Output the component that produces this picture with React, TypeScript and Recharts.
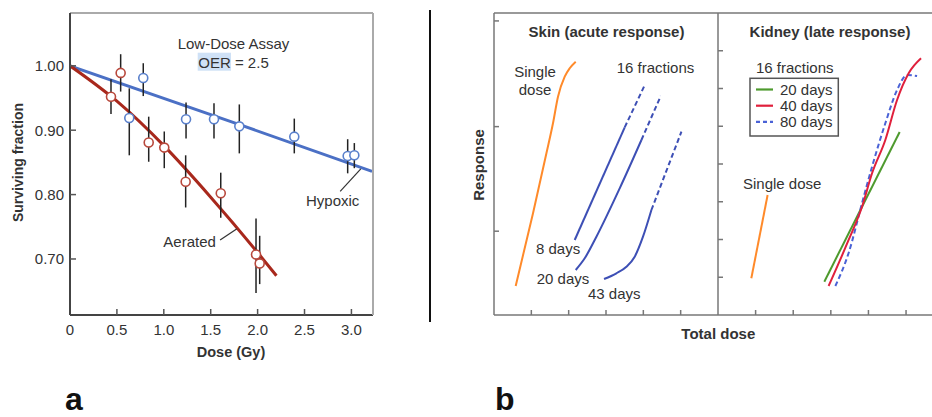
import React from 'react';
import { ComposedChart, LineChart, Line, Scatter, XAxis, YAxis, ErrorBar, ReferenceLine } from 'recharts';

const FONT = "'Liberation Sans', Arial, Helvetica, sans-serif";

// ---------- Panel a: low-dose assay ----------
const doseTicks = [0, 0.5, 1, 1.5, 2, 2.5, 3];
const survTicks = [0.7, 0.8, 0.9, 1.0];

const hypoxicDose = [0.632, 0.781, 1.237, 1.535, 1.805, 2.391, 2.96, 3.031];
const hypoxicSF = [0.919, 0.981, 0.917, 0.917, 0.906, 0.89, 0.86, 0.861];
const hypoxicLow = [0.861, 0.953, 0.887, 0.887, 0.864, 0.864, 0.833, 0.841];
const hypoxicHigh = [0.965, 1.004, 0.943, 0.942, 0.94, 0.918, 0.886, 0.88];

const aeratedDose = [0.437, 0.54, 0.839, 1.005, 1.233, 1.607, 1.983, 2.022];
const aeratedSF = [0.952, 0.989, 0.881, 0.873, 0.82, 0.802, 0.707, 0.693];
const aeratedLow = [0.925, 0.96, 0.851, 0.841, 0.78, 0.764, 0.647, 0.661];
const aeratedHigh = [0.979, 1.018, 0.921, 0.898, 0.861, 0.834, 0.763, 0.736];

const hypoxicFitDose = [0, 1.8, 3.22];
const hypoxicFitSF = [1.0, 0.909, 0.836];
const aeratedFitDose = [0, 0.5, 1.0, 1.5, 2.0, 2.2];
const aeratedFitSF = [1.0, 0.945, 0.876, 0.796, 0.71, 0.674];

// ---------- Panel b: response vs total dose (arbitrary units) ----------
const skinXTicks = [1, 2, 3, 4, 5];
const skinYTicks = [2.22, 4.99, 7.79];
const kidneyXTicks = [1, 2, 3, 4, 5];
const kidneyYTicks = [1, 2, 3, 4, 5, 6, 7];

const skinSingleX = [0.581, 1.045, 1.404, 1.58, 1.714, 1.894, 2.028, 2.189];
const skinSingleY = [0.768, 2.694, 4.283, 5.078, 5.783, 6.313, 6.536, 6.71];
const skin8SolidX = [2.162, 3.501];
const skin8SolidY = [1.987, 4.972];
const skin8DashX = [3.501, 4.018];
const skin8DashY = [4.972, 6.048];
const skin20SolidX = [2.189, 2.43, 2.743, 3.367, 3.949];
const skin20SolidY = [1.192, 1.502, 2.074, 3.356, 4.636];
const skin20DashX = [3.949, 4.466];
const skin20DashY = [4.636, 5.801];
const skin43SolidX = [2.947, 3.279, 3.547, 3.769, 3.991, 4.216];
const skin43SolidY = [0.954, 1.105, 1.279, 1.544, 2.074, 2.781];
const skin43DashX = [4.216, 5.02];
const skin43DashY = [2.781, 4.856];

const kidneySingleX = [0.886, 1.319];
const kidneySingleY = [0.972, 3.179];
const kidney20X = [2.827, 4.83];
const kidney20Y = [0.882, 4.848];
const kidney40X = [2.941, 3.473, 3.83, 4.096, 4.449, 4.761, 5.069, 5.399];
const kidney40Y = [0.768, 1.987, 2.869, 3.754, 4.636, 5.695, 6.403, 6.8];
const kidney80X = [3.12, 3.473, 3.83, 4.096, 4.449, 4.761, 5.027, 5.293];
const kidney80Y = [0.768, 1.642, 2.967, 3.928, 5.078, 5.96, 6.358, 6.331];

const legendItems = [
  { label: '20 days', color: '#4e9a2e', dash: undefined as string | undefined },
  { label: '40 days', color: '#e0203c', dash: undefined as string | undefined },
  { label: '80 days', color: '#4a62d6', dash: '4 3' },
];

const pts = (xs: number[], ys: number[]) => xs.map((x, i) => ({ x, y: ys[i] }));
const errPts = (xs: number[], ys: number[], lo: number[], hi: number[]) =>
  xs.map((x, i) => ({ x, y: ys[i], err: [ys[i] - lo[i], hi[i] - ys[i]] }));

const HYP = '#4b70c5';
const AER = '#a8281c';
const SKINBLUE = '#3d4fb5';
const ORANGE = '#ff8a2a';
const FRAME_B = '#777';

const circle = (color: string) => (p: any) => (
  <circle cx={p.cx} cy={p.cy} r={4.5} fill="#fff" stroke={color} strokeWidth={1.6} />
);

const blank = () => '';

function PanelA() {
  return (
    <div style={{ position: 'absolute', left: 0, top: 0, width: 400, height: 417 }}>
      <ComposedChart width={400} height={417} margin={{ top: 12, right: 26, bottom: 101, left: 0 }}>
        <XAxis
          dataKey="x"
          type="number"
          domain={[0, 3.23]}
          ticks={doseTicks}
          interval={0}
          allowDataOverflow
          height={1}
          tickSize={-6}
          tickMargin={15}
          tickFormatter={(v: number) => (v === 0 ? '0' : v.toFixed(1))}
          tick={{ fill: '#333', fontSize: 15, fontFamily: FONT }}
          axisLine={{ stroke: '#444', strokeWidth: 2 }}
          tickLine={{ stroke: '#555', strokeWidth: 1.5 }}
        />
        <XAxis
          xAxisId="top"
          orientation="top"
          type="number"
          domain={[0, 3.23]}
          height={1}
          tick={false}
          tickLine={false}
          axisLine={{ stroke: '#aaa', strokeWidth: 2 }}
        />
        <YAxis
          type="number"
          domain={[0.613, 1.082]}
          ticks={survTicks}
          interval={0}
          allowDataOverflow
          width={70}
          tickSize={-6}
          tickMargin={12}
          tickFormatter={(v: number) => v.toFixed(2)}
          tick={{ fill: '#333', fontSize: 15, fontFamily: FONT }}
          axisLine={{ stroke: '#444', strokeWidth: 2 }}
          tickLine={{ stroke: '#555', strokeWidth: 1.5 }}
        />
        <YAxis
          yAxisId="right"
          orientation="right"
          type="number"
          domain={[0.613, 1.082]}
          width={1}
          tick={false}
          tickLine={false}
          axisLine={{ stroke: '#aaa', strokeWidth: 2 }}
        />
        <Line data={pts(hypoxicFitDose, hypoxicFitSF)} dataKey="y" type="monotone" stroke={HYP} strokeWidth={3} dot={false} isAnimationActive={false} />
        <Line data={pts(aeratedFitDose, aeratedFitSF)} dataKey="y" type="monotone" stroke={AER} strokeWidth={3} dot={false} isAnimationActive={false} />
        <ReferenceLine segment={[{ x: 2.88, y: 0.805 }, { x: 3.1, y: 0.84 }]} stroke="#333" strokeWidth={1.2} />
        <ReferenceLine segment={[{ x: 1.6, y: 0.7295 }, { x: 1.78, y: 0.747 }]} stroke="#333" strokeWidth={1.2} />
        <Scatter data={errPts(hypoxicDose, hypoxicSF, hypoxicLow, hypoxicHigh)} dataKey="y" shape={circle('#5a80cc')} isAnimationActive={false}>
          <ErrorBar dataKey="err" direction="y" width={0} stroke="#222" strokeWidth={1.5} />
        </Scatter>
        <Scatter data={errPts(aeratedDose, aeratedSF, aeratedLow, aeratedHigh)} dataKey="y" shape={circle('#b8483c')} isAnimationActive={false}>
          <ErrorBar dataKey="err" direction="y" width={0} stroke="#222" strokeWidth={1.5} />
        </Scatter>
      </ComposedChart>
    </div>
  );
}

const frameAxisProps = {
  axisLine: { stroke: FRAME_B, strokeWidth: 1.5 },
  tickLine: { stroke: FRAME_B, strokeWidth: 1.5 },
  tick: { fontSize: 1, fill: 'none' },
  tickFormatter: blank,
};

function SkinPanel() {
  return (
    <div style={{ position: 'absolute', left: 493, top: 0, width: 225, height: 417 }}>
      <LineChart width={225} height={417} margin={{ top: 12, right: 0, bottom: 101, left: 0 }}>
        <XAxis dataKey="x" type="number" domain={[0, 6]} ticks={skinXTicks} interval={0} allowDataOverflow height={1} tickSize={-5} {...frameAxisProps} />
        <XAxis xAxisId="top" orientation="top" type="number" domain={[0, 6]} ticks={skinXTicks} interval={0} height={1} tickSize={-5} {...frameAxisProps} />
        <YAxis type="number" domain={[0, 8]} ticks={skinYTicks} interval={0} allowDataOverflow width={1} tickSize={-5} {...frameAxisProps} />
        <Line data={pts(skinSingleX, skinSingleY)} dataKey="y" type="monotone" stroke={ORANGE} strokeWidth={2} dot={false} isAnimationActive={false} />
        <Line data={pts(skin8SolidX, skin8SolidY)} dataKey="y" type="linear" stroke={SKINBLUE} strokeWidth={2} dot={false} isAnimationActive={false} />
        <Line data={pts(skin8DashX, skin8DashY)} dataKey="y" type="linear" stroke={SKINBLUE} strokeWidth={2} strokeDasharray="5 3" dot={false} isAnimationActive={false} />
        <Line data={pts(skin20SolidX, skin20SolidY)} dataKey="y" type="monotone" stroke={SKINBLUE} strokeWidth={2} dot={false} isAnimationActive={false} />
        <Line data={pts(skin20DashX, skin20DashY)} dataKey="y" type="linear" stroke={SKINBLUE} strokeWidth={2} strokeDasharray="5 3" dot={false} isAnimationActive={false} />
        <Line data={pts(skin43SolidX, skin43SolidY)} dataKey="y" type="monotone" stroke={SKINBLUE} strokeWidth={2} dot={false} isAnimationActive={false} />
        <Line data={pts(skin43DashX, skin43DashY)} dataKey="y" type="linear" stroke={SKINBLUE} strokeWidth={2} strokeDasharray="5 3" dot={false} isAnimationActive={false} />
      </LineChart>
    </div>
  );
}

function KidneyPanel() {
  return (
    <div style={{ position: 'absolute', left: 717, top: 0, width: 215, height: 417 }}>
      <LineChart width={215} height={417} margin={{ top: 12, right: 0, bottom: 101, left: 0 }}>
        <XAxis dataKey="x" type="number" domain={[0, 5.69]} ticks={kidneyXTicks} interval={0} allowDataOverflow height={1} tickSize={-5} {...frameAxisProps} />
        <XAxis xAxisId="top" orientation="top" type="number" domain={[0, 5.69]} ticks={kidneyXTicks} interval={0} height={1} tickSize={-5} {...frameAxisProps} />
        <YAxis type="number" domain={[0, 8]} ticks={kidneyYTicks} interval={0} allowDataOverflow width={1} tickSize={-5} {...frameAxisProps} />
        <Line data={pts(kidneySingleX, kidneySingleY)} dataKey="y" type="linear" stroke={ORANGE} strokeWidth={2} dot={false} isAnimationActive={false} />
        <Line data={pts(kidney20X, kidney20Y)} dataKey="y" type="linear" stroke={legendItems[0].color} strokeWidth={2} dot={false} isAnimationActive={false} />
        <Line data={pts(kidney80X, kidney80Y)} dataKey="y" type="monotone" stroke={legendItems[2].color} strokeWidth={2} strokeDasharray="5 3" dot={false} isAnimationActive={false} />
        <Line data={pts(kidney40X, kidney40Y)} dataKey="y" type="monotone" stroke={legendItems[1].color} strokeWidth={2} dot={false} isAnimationActive={false} />
      </LineChart>
    </div>
  );
}

function Overlay() {
  const t = { fontFamily: FONT, fill: '#333' };
  return (
    <svg width={932} height={417} style={{ position: 'absolute', left: 0, top: 0, pointerEvents: 'none' }}>
      {/* panel a annotations */}
      <text x={233.5} y={48.6} fontSize={15} textAnchor="middle" {...t}>Low-Dose Assay</text>
      <rect x={197.7} y={52.7} width={33.3} height={18} fill="#cfe1f6" />
      <text x={233.5} y={67.5} fontSize={15} textAnchor="middle" {...t}>OER = 2.5</text>
      <text x={306} y={206} fontSize={15} {...t}>Hypoxic</text>
      <text x={163.3} y={247} fontSize={15} {...t}>Aerated</text>
      <text x={231} y={357} fontSize={14.5} fontWeight="bold" textAnchor="middle" {...t}>Dose (Gy)</text>
      <text transform="translate(22.5,162.5) rotate(-90)" fontSize={14} fontWeight="bold" textAnchor="middle" {...t}>Surviving fraction</text>
      <text x={65} y={410} fontSize={32} fontWeight="bold" fontFamily={FONT} fill="#111">a</text>

      {/* divider */}
      <line x1={430} y1={10} x2={430} y2={322} stroke="#111" strokeWidth={2} />

      {/* panel b */}
      <text x={606.5} y={37.3} fontSize={15} fontWeight="bold" textAnchor="middle" {...t}>Skin (acute response)</text>
      <text x={830} y={37.3} fontSize={15} fontWeight="bold" textAnchor="middle" {...t}>Kidney (late response)</text>
      <text x={535} y={77} fontSize={15} textAnchor="middle" {...t}>Single</text>
      <text x={535} y={95.3} fontSize={15} textAnchor="middle" {...t}>dose</text>
      <text x={616.7} y={73} fontSize={15} {...t}>16 fractions</text>
      <text x={536} y={253.6} fontSize={15} {...t}>8 days</text>
      <text x={536.7} y={283.6} fontSize={15} {...t}>20 days</text>
      <text x={588} y={299.3} fontSize={15} {...t}>43 days</text>
      <text x={756} y={73} fontSize={15} {...t}>16 fractions</text>
      <text x={743} y={188.6} fontSize={15} {...t}>Single dose</text>
      <text transform="translate(483.5,165) rotate(-90)" fontSize={15} fontWeight="bold" textAnchor="middle" {...t}>Response</text>
      <text x={718.3} y={339.3} fontSize={15} fontWeight="bold" textAnchor="middle" {...t}>Total dose</text>
      <text x={495} y={410} fontSize={32} fontWeight="bold" fontFamily={FONT} fill="#111">b</text>

      {/* legend */}
      <rect x={750} y={78.3} width={88.3} height={57.7} fill="#fff" stroke="#555" strokeWidth={1.5} />
      {legendItems.map((it, i) => (
        <g key={it.label}>
          <line x1={756} x2={773} y1={89.5 + i * 16.2} y2={89.5 + i * 16.2} stroke={it.color} strokeWidth={2.2} strokeDasharray={it.dash} />
          <text x={780} y={94.8 + i * 16.2} fontSize={15} {...t}>{it.label}</text>
        </g>
      ))}
    </svg>
  );
}

export default function App() {
  return (
    <div style={{ position: 'absolute', left: 0, top: 0, width: 932, height: 417, background: '#fff', overflow: 'hidden' }}>
      <PanelA />
      <SkinPanel />
      <KidneyPanel />
      <Overlay />
    </div>
  );
}
